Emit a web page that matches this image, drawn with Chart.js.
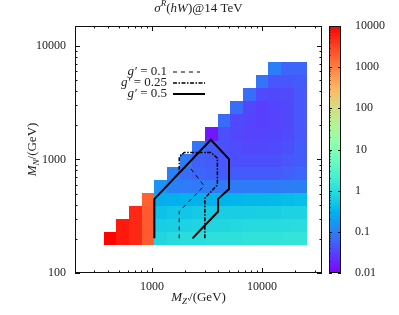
<!DOCTYPE html>
<html>
<head>
<meta charset="utf-8">
<script src="https://cdn.jsdelivr.net/npm/chart.js@4.4.0/dist/chart.umd.min.js"></script>
<style>
  html, body { margin: 0; padding: 0; background: #fff; }
</style>
</head>
<body>
<canvas id="grafico" width="399" height="315"></canvas>
<script>
// centri delle celle della griglia (GeV)
const massaZp = [415, 540, 705, 920, 1200, 1565, 2040, 2660, 3470, 4520, 5900, 7700, 10000, 13050, 17000, 22200];
const massaN = [200, 261, 341, 445, 580, 757, 987, 1287, 1679, 2190, 2856, 3725, 4858, 6336];

// sigma^R(hW) per ogni riga di M_N (null = fuori dalla regione M_Z' > 2 M_N)
const _ = null;
const sigma = [
  [9500, 6500, 5000, 2000, 0.8, 0.9, 1.0, 1.0, 1.1, 1.1, 1.1, 1.2, 1.2, 1.2, 1.3, 1.3],
  [_, 6500, 5000, 2000, 0.6, 0.65, 0.7, 0.75, 0.8, 0.8, 0.85, 0.9, 0.9, 0.9, 0.95, 1.0],
  [_, _, 5000, 2000, 0.45, 0.5, 0.5, 0.55, 0.55, 0.6, 0.6, 0.6, 0.65, 0.65, 0.7, 0.7],
  [_, _, _, 1800, 0.25, 0.28, 0.3, 0.3, 0.3, 0.32, 0.33, 0.35, 0.35, 0.36, 0.38, 0.4],
  [_, _, _, _, 0.15, 0.1, 0.095, 0.09, 0.09, 0.09, 0.09, 0.09, 0.09, 0.09, 0.095, 0.1],
  [_, _, _, _, _, 0.1, 0.07, 0.06, 0.055, 0.05, 0.05, 0.05, 0.05, 0.05, 0.055, 0.06],
  [_, _, _, _, _, _, 0.09, 0.055, 0.05, 0.045, 0.04, 0.04, 0.04, 0.04, 0.045, 0.05],
  [_, _, _, _, _, _, _, 0.08, 0.05, 0.04, 0.038, 0.035, 0.035, 0.037, 0.04, 0.05],
  [_, _, _, _, _, _, _, _, 0.015, 0.04, 0.035, 0.032, 0.032, 0.034, 0.037, 0.045],
  [_, _, _, _, _, _, _, _, _, 0.07, 0.037, 0.032, 0.03, 0.032, 0.035, 0.045],
  [_, _, _, _, _, _, _, _, _, _, 0.07, 0.035, 0.03, 0.032, 0.035, 0.045],
  [_, _, _, _, _, _, _, _, _, _, _, 0.07, 0.037, 0.035, 0.037, 0.045],
  [_, _, _, _, _, _, _, _, _, _, _, _, 0.08, 0.045, 0.045, 0.05],
  [_, _, _, _, _, _, _, _, _, _, _, _, _, 0.1, 0.06, 0.06]
];

// curve di livello per i tre valori di g'
const contornoX01 = [1769, 1769, 2977, 2147];
const contornoY01 = [202, 348, 586, 880];
const contornoX025 = [3020, 3020, 3927, 3927, 3422, 1963, 1769, 1769];
const contornoY025 = [202, 456, 598, 1028, 1153, 1153, 1050, 767];
const contornoX05 = [1051, 1051, 3422, 5008, 5008, 3985, 3985, 2333];
const contornoY05 = [202, 447, 1492, 1008, 550, 450, 348, 202];

// etichette degli assi
const tickX = [1000, 10000];
const tickY = [100, 1000, 10000];
const tickCB = [0.01, 0.1, 1, 10, 100, 1000, 10000];

const FONT = '"Liberation Serif", "DejaVu Serif", serif';
const COLORE_TESTO = '#222';

function punti(xs, ys) {
  return xs.map((x, i) => ({ x: x, y: ys[i] }));
}

// palette "rainbow" su scala logaritmica 0.01 - 10000
function coloreArcobaleno(v) {
  let t = (Math.log10(v) + 2) / 6;
  t = Math.min(1, Math.max(0, t));
  const r = Math.min(1, Math.abs(2 * t - 0.5));
  const g = Math.sin(Math.PI * t);
  const b = Math.cos(Math.PI * t / 2);
  return 'rgb(' + Math.round(r * 255) + ',' + Math.round(g * 255) + ',' + Math.round(b * 255) + ')';
}

function bordi(c, i) {
  const lo = i > 0 ? Math.sqrt(c[i - 1] * c[i]) : c[0] * Math.sqrt(c[0] / c[1]);
  const hi = i < c.length - 1 ? Math.sqrt(c[i] * c[i + 1]) : c[i] * Math.sqrt(c[i] / c[i - 1]);
  return [lo, hi];
}

// testo con corsivo / pedici / apici
function testoRicco(ctx, parti, x, y, size, align) {
  const pezzi = parti.map(p => {
    const s = (p.sub || p.sup) ? size * 0.7 : size;
    const f = (p.it ? 'italic ' : '') + s + 'px ' + FONT;
    ctx.font = f;
    return { t: p.t, f: f, w: ctx.measureText(p.t).width, dy: p.sub ? size * 0.28 : (p.sup ? -size * 0.38 : 0) };
  });
  const tot = pezzi.reduce((a, p) => a + p.w, 0);
  let cx = align === 'right' ? x - tot : (align === 'center' ? x - tot / 2 : x);
  ctx.textAlign = 'left';
  ctx.textBaseline = 'middle';
  pezzi.forEach(p => {
    ctx.font = p.f;
    ctx.fillText(p.t, cx, y + p.dy);
    cx += p.w;
  });
}

function tacche(min, max) {
  const out = [];
  for (let e = Math.floor(Math.log10(min)); e <= Math.ceil(Math.log10(max)); e++) {
    for (let m = 1; m <= 9; m++) {
      const v = m * Math.pow(10, e);
      if (v >= min * 0.9999 && v <= max * 1.0001) out.push({ v: v, major: m === 1 });
    }
  }
  return out;
}

const heatmap = {
  id: 'heatmap',
  beforeDatasetsDraw(chart) {
    const { ctx, chartArea, scales } = chart;
    ctx.save();
    ctx.beginPath();
    ctx.rect(chartArea.left, chartArea.top, chartArea.width, chartArea.height);
    ctx.clip();
    sigma.forEach((riga, i) => {
      const [y0, y1] = bordi(massaN, i);
      const py0 = Math.round(scales.y.getPixelForValue(y0));
      const py1 = Math.round(scales.y.getPixelForValue(y1));
      riga.forEach((v, j) => {
        if (v === null) return;
        const [x0, x1] = bordi(massaZp, j);
        const px0 = Math.round(scales.x.getPixelForValue(x0));
        const px1 = Math.round(scales.x.getPixelForValue(x1));
        ctx.fillStyle = coloreArcobaleno(v);
        ctx.fillRect(px0, py1, px1 - px0, py0 - py1);
      });
    });
    ctx.restore();
  }
};

const cornice = {
  id: 'cornice',
  afterDraw(chart) {
    const { ctx, chartArea: a, scales } = chart;
    ctx.save();
    ctx.strokeStyle = '#111';
    ctx.lineWidth = 1;
    // bordo del grafico
    ctx.strokeRect(Math.round(a.left) + 0.5, Math.round(a.top) + 0.5, Math.round(a.width) - 1, Math.round(a.height) - 1);
    ctx.beginPath();
    tacche(scales.x.min, scales.x.max).forEach(t => {
      const px = Math.round(scales.x.getPixelForValue(t.v)) + 0.5;
      const l = t.major ? 5 : 2.5;
      ctx.moveTo(px, a.bottom); ctx.lineTo(px, a.bottom - l);
      ctx.moveTo(px, a.top); ctx.lineTo(px, a.top + l);
    });
    tacche(scales.y.min, scales.y.max).forEach(t => {
      const py = Math.round(scales.y.getPixelForValue(t.v)) + 0.5;
      const l = t.major ? 5 : 2.5;
      ctx.moveTo(a.left, py); ctx.lineTo(a.left + l, py);
      ctx.moveTo(a.right, py); ctx.lineTo(a.right - l, py);
    });
    ctx.stroke();

    // barra dei colori
    const cb = scales.cb;
    const bx = a.right + 7, bw = 12;
    const top = cb.getPixelForValue(cb.max), bot = cb.getPixelForValue(cb.min);
    const grad = ctx.createLinearGradient(0, bot, 0, top);
    for (let k = 0; k <= 60; k++) {
      const t = k / 60;
      grad.addColorStop(t, coloreArcobaleno(Math.pow(10, -2 + 6 * t)));
    }
    ctx.fillStyle = grad;
    ctx.fillRect(bx, top, bw, bot - top);
    ctx.strokeRect(bx + 0.5, Math.round(top) + 0.5, bw - 1, Math.round(bot - top) - 1);
    ctx.beginPath();
    tacche(cb.min, cb.max).forEach(t => {
      const py = Math.round(cb.getPixelForValue(t.v)) + 0.5;
      if (t.major) {
        ctx.moveTo(bx, py); ctx.lineTo(bx + 3, py);
        ctx.moveTo(bx + bw, py); ctx.lineTo(bx + bw - 3, py);
      } else {
        ctx.moveTo(bx, py); ctx.lineTo(bx + 1.5, py);
      }
    });
    ctx.stroke();

    // legenda
    const righe = [71.5, 82.5, 93.5];
    const valori = ['0.1', '0.25', '0.5'];
    chart.data.datasets.forEach((ds, i) => {
      ctx.fillStyle = COLORE_TESTO;
      testoRicco(ctx, [{ t: 'g', it: true }, { t: '′', it: true }, { t: ' = ' + valori[i] }], 167, righe[i], 13, 'right');
      ctx.beginPath();
      ctx.setLineDash(ds.borderDash || []);
      ctx.lineWidth = ds.borderWidth;
      ctx.strokeStyle = ds.borderColor;
      ctx.moveTo(173, righe[i] + 0.5);
      ctx.lineTo(i === 0 ? 200 : 205, righe[i] + 0.5);
      ctx.stroke();
    });
    ctx.setLineDash([]);

    // titoli
    ctx.fillStyle = COLORE_TESTO;
    testoRicco(ctx, [
      { t: 'σ', it: true }, { t: 'R', it: true, sup: true }, { t: '(' }, { t: 'hW', it: true }, { t: ')@14 TeV' }
    ], (a.left + a.right) / 2, 9, 13, 'center');
    testoRicco(ctx, [
      { t: 'M', it: true }, { t: 'Z′', it: true, sub: true }, { t: '/(GeV)' }
    ], (a.left + a.right) / 2, 298, 13, 'center');
    ctx.translate(33, (a.top + a.bottom) / 2);
    ctx.rotate(-Math.PI / 2);
    testoRicco(ctx, [
      { t: 'M', it: true }, { t: 'N', it: true, sub: true }, { t: '/(GeV)' }
    ], 0, 0, 13, 'center');
    ctx.restore();
  }
};

function asseLog(min, max, etichette, extra) {
  return Object.assign({
    type: 'logarithmic',
    min: min,
    max: max,
    grid: { display: false, drawTicks: false },
    border: { display: false },
    afterBuildTicks: s => { s.ticks = etichette.map(v => ({ value: v })); },
    ticks: {
      autoSkip: false,
      maxRotation: 0,
      color: COLORE_TESTO,
      font: { family: FONT, size: 12 },
      callback: v => String(v)
    }
  }, extra);
}

// dimensioni fisse degli assi, senza margini extra per le etichette
function fissa(dim, val) {
  return s => {
    s[dim] = val;
    s.paddingTop = 0; s.paddingBottom = 0; s.paddingLeft = 0; s.paddingRight = 0;
  };
}

const scaleX = asseLog(200, 35000, tickX, { position: 'bottom', afterFit: fissa('height', 42) });
scaleX.ticks.padding = 7;
const scaleY = asseLog(100, 15000, tickY, { position: 'left', afterFit: fissa('width', 75) });
scaleY.ticks.padding = 9;
const scaleCB = asseLog(0.01, 10000, tickCB, { axis: 'y', position: 'right', afterFit: fissa('width', 77) });
scaleCB.ticks.padding = 33;

const ctx = document.getElementById('grafico').getContext('2d');
const myChart = new Chart(ctx, {
  type: 'scatter',
  data: {
    datasets: [
      { label: "g' = 0.1", data: punti(contornoX01, contornoY01), showLine: true, borderColor: '#000', borderWidth: 1, borderDash: [4, 4], pointRadius: 0, tension: 0 },
      { label: "g' = 0.25", data: punti(contornoX025, contornoY025), showLine: true, borderColor: '#000', borderWidth: 1.5, borderDash: [4, 1.5, 1.5, 1.5], pointRadius: 0, tension: 0 },
      { label: "g' = 0.5", data: punti(contornoX05, contornoY05), showLine: true, borderColor: '#000', borderWidth: 2, pointRadius: 0, tension: 0 }
    ]
  },
  options: {
    responsive: false,
    animation: false,
    layout: { padding: { top: 26, left: 0, right: 0, bottom: 0 } },
    plugins: { legend: { display: false }, tooltip: { enabled: false } },
    scales: { x: scaleX, y: scaleY, cb: scaleCB }
  },
  plugins: [heatmap, cornice]
});
</script>
</body>
</html>
